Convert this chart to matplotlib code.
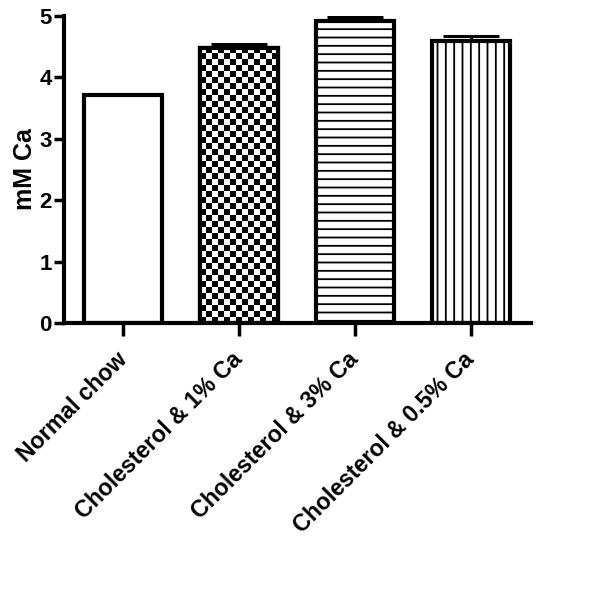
import numpy as np
import matplotlib
matplotlib.use('Agg')
import matplotlib.pyplot as plt

plt.rcParams['font.family'] = ['Liberation Sans', 'DejaVu Sans']
plt.rcParams['font.weight'] = 'bold'
plt.rcParams['hatch.linewidth'] = 1.3

groups = ['Normal chow', 'Cholesterol & 1% Ca', 'Cholesterol & 3% Ca', 'Cholesterol & 0.5% Ca']
means = [3.71, 4.48, 4.92, 4.59]
errors = [0.01, 0.07, 0.06, 0.09]
hatches = ['', 'checker', '--', '||']

fig = plt.figure(figsize=(6.0, 6.13), dpi=100)
ax = fig.add_axes([0.107, 0.473, 0.778, 0.501])

x = np.arange(len(groups))
width = 0.67

ax.set_xlim(-0.51, 3.52)
ax.set_ylim(0, 5)

# error bars (upper only), drawn under the bars
ax.errorbar(x, means, yerr=[np.zeros(len(means)), errors], fmt='none',
            ecolor='black', elinewidth=2.2, capsize=20, capthick=2.2, zorder=1)

bars = ax.bar(x, means, width, color='white', edgecolor='black', linewidth=3, zorder=2)
for b, h in zip(bars, hatches):
    if h in ('--', '||'):
        b.set_hatch(h)

# checkerboard fill (no such hatch in matplotlib)
fig.canvas.draw()
for b, h in zip(bars, hatches):
    if h != 'checker':
        continue
    x0, y0 = b.get_x(), b.get_y()
    x1, y1 = x0 + b.get_width(), y0 + b.get_height()
    p0 = ax.transData.transform((x0, y0))
    p1 = ax.transData.transform((x1, y1))
    nx = int(round(abs(p1[0] - p0[0]) / 6.0))
    ny = int(round(abs(p1[1] - p0[1]) / 6.0))
    board = (np.add.outer(np.arange(ny), np.arange(nx)) % 2).astype(float)
    im = ax.imshow(board, cmap='gray', extent=(x0, x1, y0, y1), aspect='auto',
                   interpolation='nearest', zorder=2.5, origin='lower')
    im.set_clip_path(b)
    edge = ax.bar(b.get_x() + b.get_width() / 2, b.get_height(), width,
                  facecolor='none', edgecolor='black', linewidth=3, zorder=3)

ax.set_xlim(-0.51, 3.52)
ax.set_ylim(0, 5)

for side in ['top', 'right']:
    ax.spines[side].set_visible(False)
for side in ['left', 'bottom']:
    ax.spines[side].set_linewidth(3)

ax.set_yticks([0, 1, 2, 3, 4, 5])
ax.set_xticks(x)
ax.set_xticklabels(groups, rotation=45, ha='right', va='center', rotation_mode='anchor',
                   fontsize=16.7)
ax.tick_params(axis='both', width=2.5, direction='out')
ax.tick_params(axis='x', length=9, pad=15)
ax.tick_params(axis='y', length=7, pad=2, labelsize=16)
ax.set_ylabel('mM Ca', fontsize=18, fontweight='bold', labelpad=2)

fig.savefig('out.png', dpi=100)
